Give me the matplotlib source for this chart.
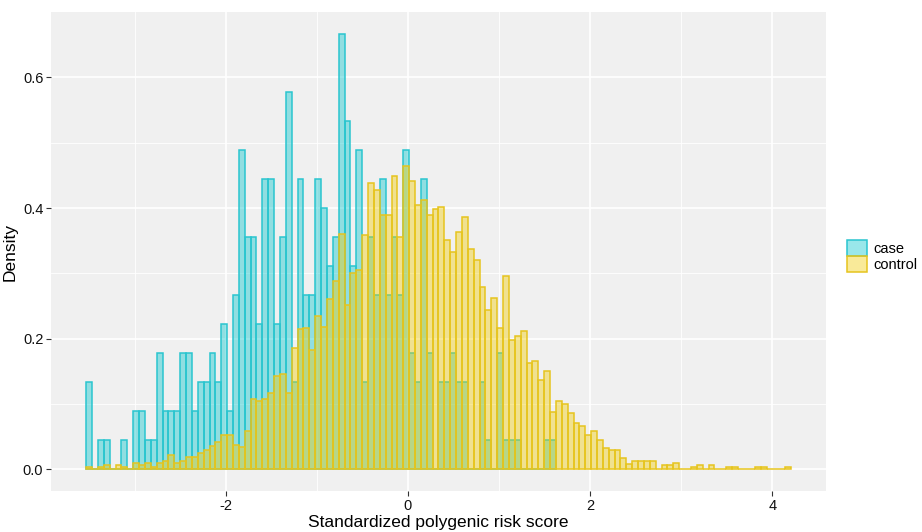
"""Case vs control histogram of standardized polygenic risk score (ggplot look)."""
import numpy as np
import matplotlib
matplotlib.use("Agg")
import matplotlib.pyplot as plt
from matplotlib.patches import Patch

plt.rcParams["font.family"] = ["Liberation Sans", "DejaVu Sans"]
plt.rcParams["axes.unicode_minus"] = False

# histogram bins (120 bins shared by both groups)
bin_start = -3.530
bin_width = 0.06443

# density per bin
case_density = [
    0.133, 0, 0.044, 0.044, 0, 0, 0.044, 0, 0.089, 0.089,
    0.044, 0.044, 0.178, 0.089, 0.089, 0.089, 0.178, 0.178, 0.089, 0.133,
    0.133, 0.178, 0.133, 0.222, 0.089, 0.267, 0.489, 0.356, 0.356, 0.222,
    0.444, 0.444, 0.222, 0.356, 0.578, 0.133, 0.444, 0.267, 0.267, 0.444,
    0.400, 0.311, 0.356, 0.667, 0.533, 0.311, 0.489, 0.133, 0.356, 0.267,
    0.444, 0.267, 0.356, 0.267, 0.489, 0.178, 0.133, 0.444, 0.178, 0,
    0.133, 0.133, 0.178, 0.133, 0.133, 0, 0, 0.133, 0.044, 0,
    0.178, 0.044, 0.044, 0.044, 0, 0, 0, 0, 0.044, 0.044,
]
control_density = [
    0.003, 0, 0.003, 0.006, 0, 0.006, 0.003, 0, 0.009, 0.006,
    0.009, 0.003, 0.009, 0.012, 0.021, 0.009, 0.012, 0.018, 0.019, 0.025,
    0.029, 0.035, 0.042, 0.053, 0.053, 0.037, 0.034, 0.059, 0.107, 0.105,
    0.107, 0.116, 0.143, 0.146, 0.117, 0.185, 0.215, 0.217, 0.182, 0.234,
    0.218, 0.261, 0.289, 0.360, 0.251, 0.300, 0.305, 0.359, 0.438, 0.428,
    0.390, 0.390, 0.449, 0.356, 0.464, 0.442, 0.405, 0.412, 0.390, 0.398,
    0.401, 0.351, 0.333, 0.363, 0.386, 0.337, 0.320, 0.279, 0.244, 0.262,
    0.217, 0.296, 0.198, 0.204, 0.211, 0.162, 0.165, 0.136, 0.150, 0.088,
    0.104, 0.100, 0.086, 0.070, 0.066, 0.053, 0.058, 0.045, 0.033, 0.029,
    0.029, 0.017, 0.008, 0.012, 0.012, 0.012, 0.012, 0, 0.006, 0.006,
    0.009, 0, 0, 0.003, 0.006, 0, 0.006, 0, 0, 0.003,
    0.003, 0, 0, 0, 0.003, 0.003, 0, 0, 0, 0.003,
]
groups = ["case", "control"]

case_edge = "#2AC5CF"
case_fill = (0.0, 0.77, 0.80, 0.40)
ctrl_edge = "#E6C41E"
ctrl_fill = (0.95, 0.80, 0.0, 0.40)

fig = plt.figure(figsize=(9.22, 5.32), dpi=100)
ax = fig.add_axes([0.0553, 0.0771, 0.8406, 0.9003])
ax.set_facecolor("#F0F0F0")

left_case = bin_start + bin_width * np.arange(len(case_density))
left_ctrl = bin_start + bin_width * np.arange(len(control_density))
ax.bar(left_case, case_density, width=bin_width, align="edge",
       facecolor=case_fill, edgecolor=case_edge, linewidth=1.1, zorder=2)
ax.bar(left_ctrl, control_density, width=bin_width, align="edge",
       facecolor=ctrl_fill, edgecolor=ctrl_edge, linewidth=1.1, zorder=3)

ax.set_xlim(-3.917, 4.589)
ax.set_ylim(-0.0334, 0.7003)

ax.set_xticks([-2, 0, 2, 4])
ax.set_xticklabels(["-2", "0", "2", "4"])
ax.set_yticks([0.0, 0.2, 0.4, 0.6])
ax.set_yticklabels(["0.0", "0.2", "0.4", "0.6"])
ax.set_xticks([-3, -1, 1, 3], minor=True)
ax.set_yticks([0.1, 0.3, 0.5], minor=True)
ax.tick_params(which="major", length=3.5, width=0.8, color="#333333",
               labelsize=10.5, labelcolor="#111111", pad=2)
ax.tick_params(which="minor", length=0)

ax.set_axisbelow(True)
ax.grid(which="major", color="white", linewidth=1.2)
ax.grid(which="minor", color="white", linewidth=0.6)
for sp in ax.spines.values():
    sp.set_visible(False)

ax.set_xlabel("Standardized polygenic risk score", fontsize=12.5, labelpad=2)
ax.set_ylabel("Density", fontsize=12.5, labelpad=4)

handles = [Patch(facecolor=case_fill, edgecolor=case_edge, linewidth=1.1),
           Patch(facecolor=ctrl_fill, edgecolor=ctrl_edge, linewidth=1.1)]
fig.legend(handles, groups, loc="upper left", bbox_to_anchor=(0.919, 0.549),
           frameon=False, fontsize=10.5, handlelength=1.37, handleheight=1.3,
           labelspacing=0.0, handletextpad=0.4, borderpad=0, borderaxespad=0)

fig.savefig("out.png", dpi=100)
